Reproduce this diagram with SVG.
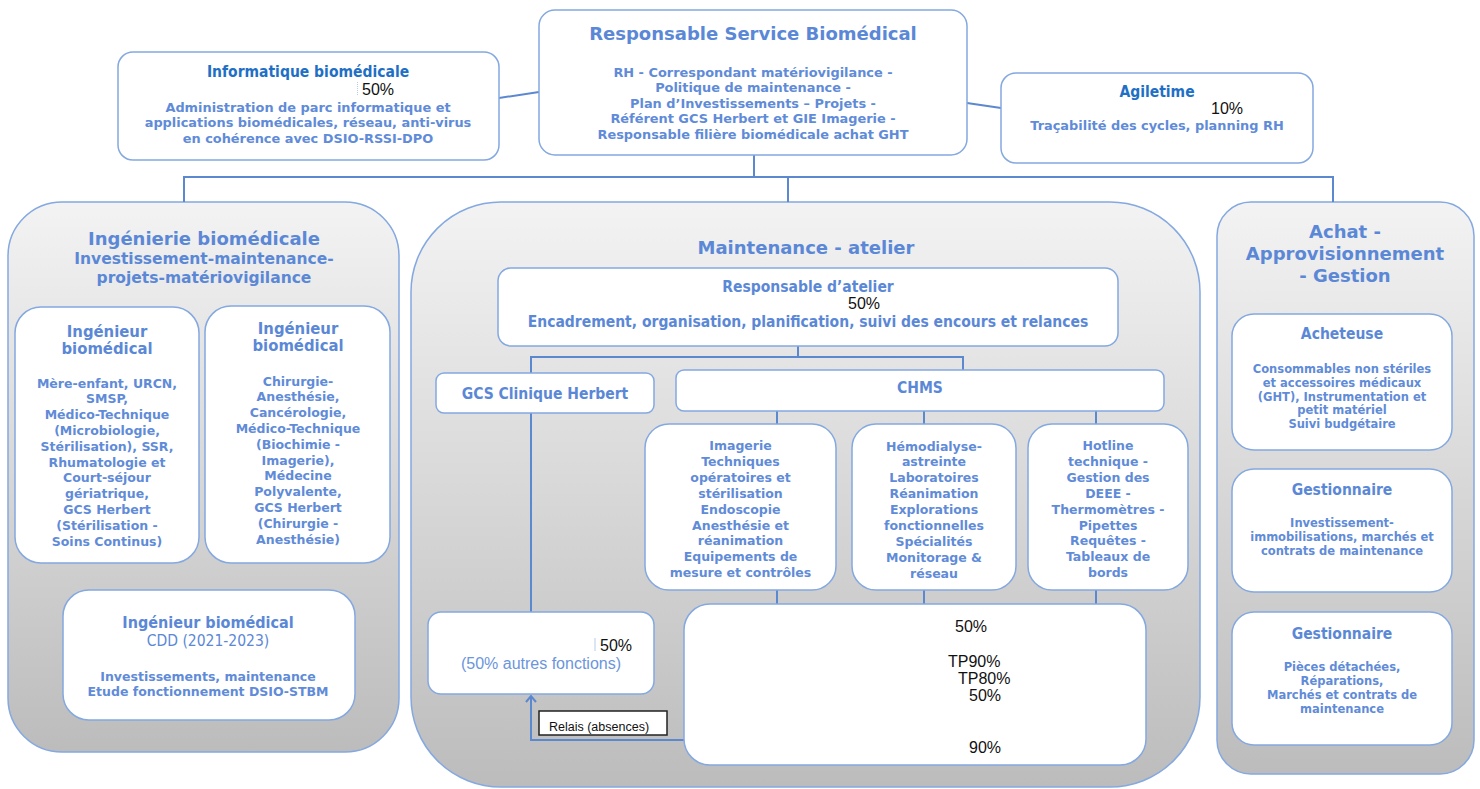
<svg xmlns="http://www.w3.org/2000/svg" width="1480" height="789" viewBox="0 0 1480 789">
<defs>
<linearGradient id="pg" x1="0" y1="0" x2="0" y2="1">
<stop offset="0" stop-color="#f3f3f3"/><stop offset="1" stop-color="#bcbcbc"/>
</linearGradient>
<marker id="arr" viewBox="0 0 12 12" refX="10" refY="6" markerWidth="12" markerHeight="12" markerUnits="userSpaceOnUse" orient="auto">
<path d="M4,1 L10,6 L4,11" fill="none" stroke="#5b88cf" stroke-width="2"/>
</marker>
<style>
.box{fill:#fff;stroke:#84a8e0;stroke-width:1.5}
.panel{fill:url(#pg);stroke:#84a8e0;stroke-width:1.5}
.ln{fill:none;stroke:#5b88cf;stroke-width:2}
text{text-anchor:middle}
.h{font-family:"DejaVu Sans",sans-serif;font-weight:bold;font-size:18px;fill:#5b88d6}
.h2{font-family:"DejaVu Sans",sans-serif;font-weight:bold;font-size:15.5px;fill:#5b88d6}
.b{font-family:"DejaVu Sans",sans-serif;font-weight:bold;font-size:12.5px;fill:#5f8bd8}
.bt{font-family:"DejaVu Sans",sans-serif;font-weight:bold;font-size:12.9px;fill:#5f8bd8}
.s{font-family:"DejaVu Sans",sans-serif;font-weight:bold;font-size:11.5px;fill:#5f8bd8}
.c{font-family:"DejaVu Sans Condensed","DejaVu Sans",sans-serif;font-stretch:condensed;font-weight:bold;font-size:15.5px;fill:#5b88d6}
.cd{font-family:"DejaVu Sans Condensed","DejaVu Sans",sans-serif;font-stretch:condensed;font-weight:bold;font-size:15.5px;fill:#1f6fc5}
.cr{font-family:"DejaVu Sans Condensed","DejaVu Sans",sans-serif;font-stretch:condensed;font-size:15.5px;fill:#5b88d6}
.p{font-family:"Liberation Sans",Arial,sans-serif;font-size:16px;fill:#111;text-anchor:start}
.pb{font-family:"Liberation Sans",Arial,sans-serif;font-size:16px;fill:#6b95dc}
.r{font-family:"Liberation Sans",Arial,sans-serif;font-size:12.5px;fill:#111;text-anchor:start}
</style>
</defs>

<!-- panels -->
<g id="panel-ingenierie">
<rect class="panel" x="8" y="202" width="391" height="550" rx="54"/>
<text class="h" x="204" y="244.5">Ingénierie biomédicale</text>
<text class="h2" x="204" y="263.5">Investissement-maintenance-</text>
<text class="h2" x="204" y="282.5">projets-matériovigilance</text>
</g>
<g id="panel-maintenance">
<rect class="panel" x="411" y="202" width="789" height="585" rx="90"/>
<text class="h" x="806" y="253.5">Maintenance - atelier</text>
</g>
<g id="panel-achat">
<rect class="panel" x="1217" y="202" width="257" height="572" rx="34"/>
<text class="h" x="1345" y="238">Achat -</text>
<text class="h" x="1345" y="259.5">Approvisionnement</text>
<text class="h" x="1345" y="282">- Gestion</text>
</g>

<!-- connectors -->
<g id="connectors">
<path class="ln" d="M499,98 L539,92"/>
<path class="ln" d="M967,103 L1001,108"/>
<path class="ln" d="M754,155 V177 M184,177 H1333 M184,176 V202 M788,176 V202 M1333,176 V202"/>
<path class="ln" d="M798,346 V357 M531,357 H963 M531,356 V373 M963,356 V370"/>
<path class="ln" d="M531,413 V612"/>
<path class="ln" d="M777,411 V424 M924,411 V424 M1096,411 V424"/>
<path class="ln" d="M777,590 V604 M924,590 V604 M1096,590 V604"/>
<path class="ln" d="M684,740 H531 V696" marker-end="url(#arr)"/>
</g>

<!-- top nodes -->
<g id="responsable-service">
<rect class="box" x="539" y="10" width="428" height="145" rx="16"/>
<text class="h" x="753" y="39.5">Responsable Service Biomédical</text>
<text class="bt" x="753" y="76.5">RH - Correspondant matériovigilance -</text>
<text class="bt" x="753" y="92">Politique de maintenance -</text>
<text class="bt" x="753" y="107.5">Plan d’Investissements – Projets -</text>
<text class="bt" x="753" y="123">Référent GCS Herbert et GIE Imagerie -</text>
<text class="bt" x="753" y="138.5">Responsable filière biomédicale achat GHT</text>
</g>
<g id="informatique">
<rect class="box" x="118" y="52" width="381" height="108" rx="15"/>
<text class="cd" x="308" y="76.5">Informatique biomédicale</text>
<line x1="357.5" y1="82" x2="357.5" y2="96" stroke="#b9cbe6" stroke-width="1" stroke-dasharray="1,1"/>
<text class="p" x="362" y="94.5">50%</text>
<text class="bt" x="308" y="111.5">Administration de parc informatique et</text>
<text class="bt" x="308" y="127">applications biomédicales, réseau, anti-virus</text>
<text class="bt" x="308" y="142.5">en cohérence avec DSIO-RSSI-DPO</text>
</g>
<g id="agiletime">
<rect class="box" x="1001" y="73" width="312" height="90" rx="15"/>
<text class="cd" x="1157" y="96.5">Agiletime</text>
<text class="p" x="1211" y="113.5">10%</text>
<text class="bt" x="1157" y="129.5">Traçabilité des cycles, planning RH</text>
</g>

<!-- ingenierie nodes -->
<g id="ingenieur-1">
<rect class="box" x="15" y="307" width="184" height="256" rx="26"/>
<text class="c" x="107" y="337" style="font-size:16.5px">Ingénieur</text>
<text class="c" x="107" y="353.5" style="font-size:16.5px">biomédical</text>
<text class="b" x="107" y="387.5">Mère-enfant, URCN,</text>
<text class="b" x="107" y="403.3">SMSP,</text>
<text class="b" x="107" y="419.1">Médico-Technique</text>
<text class="b" x="107" y="434.9">(Microbiologie,</text>
<text class="b" x="107" y="450.7">Stérilisation), SSR,</text>
<text class="b" x="107" y="466.5">Rhumatologie et</text>
<text class="b" x="107" y="482.3">Court-séjour</text>
<text class="b" x="107" y="498.1">gériatrique,</text>
<text class="b" x="107" y="513.9">GCS Herbert</text>
<text class="b" x="107" y="529.7">(Stérilisation -</text>
<text class="b" x="107" y="545.5">Soins Continus)</text>
</g>
<g id="ingenieur-2">
<rect class="box" x="205" y="306" width="185" height="257" rx="26"/>
<text class="c" x="298" y="333.5" style="font-size:16.5px">Ingénieur</text>
<text class="c" x="298" y="351" style="font-size:16.5px">biomédical</text>
<text class="b" x="298" y="385.5">Chirurgie-</text>
<text class="b" x="298" y="401.3">Anesthésie,</text>
<text class="b" x="298" y="417.1">Cancérologie,</text>
<text class="b" x="298" y="432.9">Médico-Technique</text>
<text class="b" x="298" y="448.7">(Biochimie -</text>
<text class="b" x="298" y="464.5">Imagerie),</text>
<text class="b" x="298" y="480.3">Médecine</text>
<text class="b" x="298" y="496.1">Polyvalente,</text>
<text class="b" x="298" y="511.9">GCS Herbert</text>
<text class="b" x="298" y="527.7">(Chirurgie -</text>
<text class="b" x="298" y="543.5">Anesthésie)</text>
</g>
<g id="ingenieur-cdd">
<rect class="box" x="63" y="590" width="292" height="130" rx="26"/>
<text class="c" x="208" y="627.5" style="font-size:16px">Ingénieur biomédical</text>
<text class="cr" x="208" y="645.5">CDD (2021-2023)</text>
<text class="b" x="208" y="680.5">Investissements, maintenance</text>
<text class="b" x="208" y="695.5">Etude fonctionnement DSIO-STBM</text>
</g>

<!-- maintenance nodes -->
<g id="responsable-atelier">
<rect class="box" x="498" y="268" width="620" height="78" rx="13"/>
<text class="c" x="808" y="291.5">Responsable d’atelier</text>
<text class="p" x="848" y="308.5">50%</text>
<text class="c" x="808" y="326.5">Encadrement, organisation, planification, suivi des encours et relances</text>
</g>
<g id="gcs-clinique-herbert">
<rect class="box" x="436" y="373" width="218" height="40" rx="8"/>
<text class="c" x="545" y="398.5">GCS Clinique Herbert</text>
</g>
<g id="chms">
<rect class="box" x="676" y="370" width="488" height="41" rx="8"/>
<text class="c" x="920" y="392.5">CHMS</text>
</g>
<g id="imagerie">
<rect class="box" x="645" y="424" width="191" height="166" rx="24"/>
<text class="b" x="740.5" y="450">Imagerie</text>
<text class="b" x="740.5" y="465.9">Techniques</text>
<text class="b" x="740.5" y="481.8">opératoires et</text>
<text class="b" x="740.5" y="497.7">stérilisation</text>
<text class="b" x="740.5" y="513.6">Endoscopie</text>
<text class="b" x="740.5" y="529.5">Anesthésie et</text>
<text class="b" x="740.5" y="545.4">réanimation</text>
<text class="b" x="740.5" y="561.3">Equipements de</text>
<text class="b" x="740.5" y="577.2">mesure et contrôles</text>
</g>
<g id="hemodialyse">
<rect class="box" x="852" y="424" width="164" height="166" rx="24"/>
<text class="b" x="934" y="450.5">Hémodialyse-</text>
<text class="b" x="934" y="466.4">astreinte</text>
<text class="b" x="934" y="482.3">Laboratoires</text>
<text class="b" x="934" y="498.2">Réanimation</text>
<text class="b" x="934" y="514.1">Explorations</text>
<text class="b" x="934" y="530">fonctionnelles</text>
<text class="b" x="934" y="545.9">Spécialités</text>
<text class="b" x="934" y="561.8">Monitorage &amp;</text>
<text class="b" x="934" y="577.7">réseau</text>
</g>
<g id="hotline">
<rect class="box" x="1028" y="424" width="160" height="166" rx="24"/>
<text class="b" x="1108" y="450">Hotline</text>
<text class="b" x="1108" y="465.9">technique -</text>
<text class="b" x="1108" y="481.8">Gestion des</text>
<text class="b" x="1108" y="497.7">DEEE -</text>
<text class="b" x="1108" y="513.6">Thermomètres -</text>
<text class="b" x="1108" y="529.5">Pipettes</text>
<text class="b" x="1108" y="545.4">Requêtes -</text>
<text class="b" x="1108" y="561.3">Tableaux de</text>
<text class="b" x="1108" y="577.2">bords</text>
</g>
<g id="gcs-50">
<rect class="box" x="428" y="612" width="226" height="82" rx="13"/>
<line x1="595" y1="638" x2="595" y2="651" stroke="#b9cbe6" stroke-width="1"/>
<text class="p" x="600" y="650.5">50%</text>
<text class="pb" x="541" y="668.5">(50% autres fonctions)</text>
</g>
<g id="chms-effectifs">
<rect class="box" x="684" y="604" width="462" height="161" rx="26"/>
<text class="p" x="955" y="631.5">50%</text>
<text class="p" x="948" y="666.5">TP90%</text>
<text class="p" x="958" y="683.5">TP80%</text>
<text class="p" x="969" y="700.5">50%</text>
<text class="p" x="969" y="752.5">90%</text>
</g>
<g id="relais">
<rect x="539" y="711" width="128" height="24" fill="#fff" stroke="#222" stroke-width="1.5"/>
<text class="r" x="549" y="730.5">Relais (absences)</text>
</g>

<!-- achat nodes -->
<g id="acheteuse">
<rect class="box" x="1232" y="314" width="220" height="136" rx="22"/>
<text class="c" x="1342" y="338.5">Acheteuse</text>
<text class="s" x="1342" y="373">Consommables non stériles</text>
<text class="s" x="1342" y="387">et accessoires médicaux</text>
<text class="s" x="1342" y="400.5">(GHT), Instrumentation et</text>
<text class="s" x="1342" y="414">petit matériel</text>
<text class="s" x="1342" y="428">Suivi budgétaire</text>
</g>
<g id="gestionnaire-1">
<rect class="box" x="1232" y="469" width="220" height="123" rx="22"/>
<text class="c" x="1342" y="494.5">Gestionnaire</text>
<text class="s" x="1342" y="527">Investissement-</text>
<text class="s" x="1342" y="541">immobilisations, marchés et</text>
<text class="s" x="1342" y="555">contrats de maintenance</text>
</g>
<g id="gestionnaire-2">
<rect class="box" x="1232" y="612" width="220" height="133" rx="22"/>
<text class="c" x="1342" y="638.5">Gestionnaire</text>
<text class="s" x="1342" y="671">Pièces détachées,</text>
<text class="s" x="1342" y="685">Réparations,</text>
<text class="s" x="1342" y="699">Marchés et contrats de</text>
<text class="s" x="1342" y="713">maintenance</text>
</g>
</svg>
